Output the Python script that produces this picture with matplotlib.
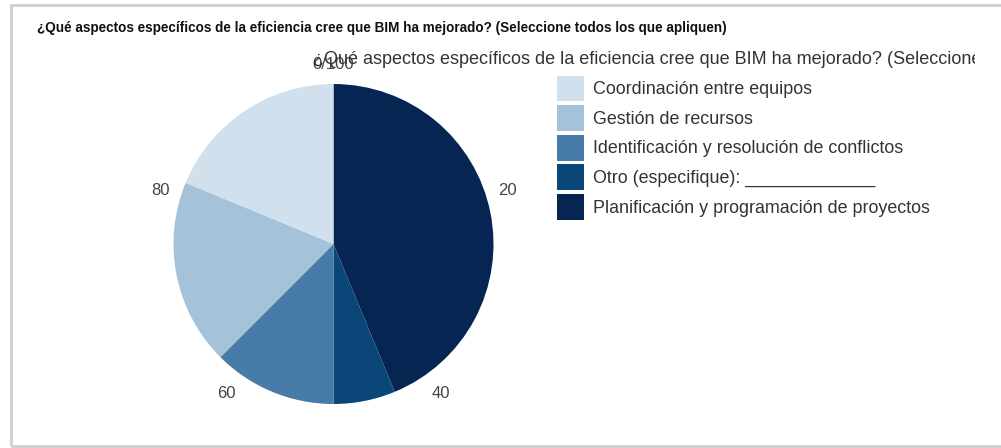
import matplotlib
matplotlib.use("Agg")
import matplotlib.pyplot as plt
from matplotlib.patches import Rectangle, Patch
import math

# ---- data ----
categories = ["Planificación y programación de proyectos",
              "Otro (especifique): _____________",
              "Identificación y resolución de conflictos",
              "Gestión de recursos",
              "Coordinación entre equipos"]
counts = [14, 2, 4, 6, 6]
colors = ["#062552", "#0b4679", "#477ca8", "#a4c2d9", "#d0e1ed"]
legend_order = [4, 3, 2, 1, 0]
tick_values = [0, 20, 40, 60, 80]
tick_labels = ["0/100", "20", "40", "60", "80"]
outer_title = "¿Qué aspectos específicos de la eficiencia cree que BIM ha mejorado? (Seleccione todos los que apliquen)"
inner_title = "¿Qué aspectos específicos de la eficiencia cree que BIM ha mejorado? (Seleccione todos los que apliquen)"

W, H = 1001, 448
fig = plt.figure(figsize=(W / 100, H / 100), dpi=100)
fig.patch.set_facecolor("white")

def fx(px):
    return px / W

def fy(py):
    return 1 - py / H

# frame
fig.add_artist(Rectangle((fx(11), fy(446)), fx(1005) - fx(11), fy(5) - fy(446),
                         transform=fig.transFigure, fill=False,
                         edgecolor="#cfcfcf", lw=2.0))

# outer title
fig.text(fx(37), fy(28), outer_title, fontsize=9.75, fontweight="bold",
         family=["Liberation Sans Narrow", "Liberation Sans", "DejaVu Sans"],
         color="#111111", va="center", ha="left")

# pie
cx, cy, R = 333.5, 244, 161
half = 200
ax = fig.add_axes([fx(cx - half), fy(cy + half), 2 * half / W, 2 * half / H])
lim = half / R
ax.set_xlim(-lim, lim)
ax.set_ylim(-lim, lim)
ax.set_aspect("equal")
ax.axis("off")
ax.pie(counts, colors=colors, startangle=90, counterclock=False, radius=1.0,
       wedgeprops=dict(linewidth=0))

rl = 1.14
for v, lab in zip(tick_values, tick_labels):
    a = math.radians(90 - v / 100 * 360)
    ax.text(rl * math.cos(a), rl * math.sin(a) - 0.015, lab,
            ha="center", va="center", fontsize=12,
            family=["Liberation Sans", "DejaVu Sans"], color="#444444")

# inner title (clipped)
tax = fig.add_axes([0, 0, fx(975), 1])
tax.axis("off")
tax.set_xlim(0, fx(975) * W)
tax.set_ylim(H, 0)
tax.text(313, 60, inner_title, ha="left", va="center", fontsize=13,
         family=["Liberation Sans", "DejaVu Sans"], color="#333333",
         clip_on=True)

# legend
handles = [Patch(facecolor=colors[i], edgecolor="none") for i in legend_order]
labels = [categories[i] for i in legend_order]
leg = fig.legend(handles, labels, loc="upper left",
                 bbox_to_anchor=(fx(544), fy(63)), frameon=False,
                 prop=dict(family=["Liberation Sans", "DejaVu Sans"], size=12.9),
                 handlelength=1.56, handleheight=1.84, handletextpad=0.45,
                 labelspacing=0.21, borderpad=0.2)
for txt in leg.get_texts():
    txt.set_color("#333333")

fig.savefig("out.png", dpi=100)
